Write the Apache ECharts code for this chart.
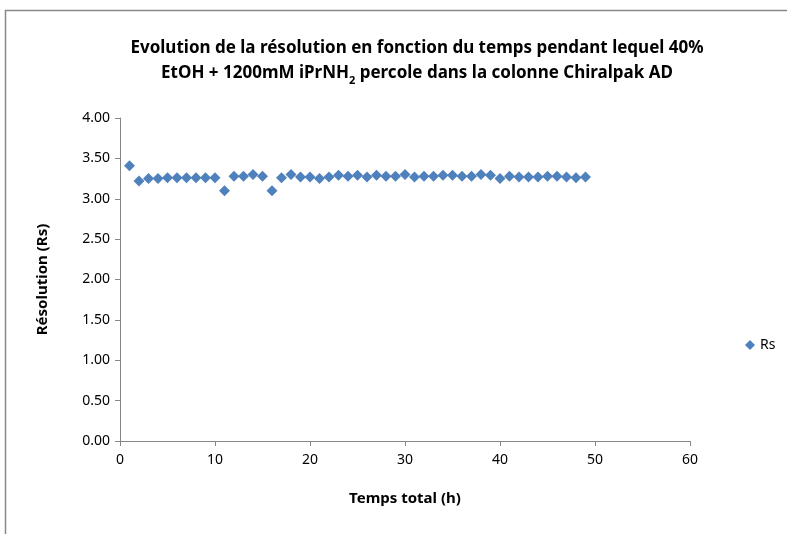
<!DOCTYPE html>
<html>
<head>
<meta charset="utf-8">
<script src="https://cdn.jsdelivr.net/npm/echarts@6/dist/echarts.min.js"></script>
<style>
  html, body { margin: 0; padding: 0; background: #fff; }
  #chart { width: 787px; height: 534px; }
</style>
</head>
<body>
<div id="chart"></div>
<script>
// temps total (h)
var hours = [1, 2, 3, 4, 5, 6, 7, 8, 9, 10,
             11, 12, 13, 14, 15, 16, 17, 18, 19, 20,
             21, 22, 23, 24, 25, 26, 27, 28, 29, 30,
             31, 32, 33, 34, 35, 36, 37, 38, 39, 40,
             41, 42, 43, 44, 45, 46, 47, 48, 49];
// résolution Rs
var rs = [3.41, 3.22, 3.25, 3.25, 3.26, 3.26, 3.26, 3.26, 3.26, 3.26,
          3.10, 3.28, 3.28, 3.30, 3.28, 3.10, 3.26, 3.30, 3.27, 3.27,
          3.25, 3.27, 3.29, 3.28, 3.29, 3.27, 3.29, 3.28, 3.28, 3.30,
          3.27, 3.28, 3.28, 3.29, 3.29, 3.28, 3.28, 3.30, 3.29, 3.25,
          3.28, 3.27, 3.27, 3.27, 3.28, 3.28, 3.27, 3.26, 3.27];

var font = 'Noto Sans';
var axisColor = '#868686';

var myChart = echarts.init(document.getElementById('chart'));

var option = {
    backgroundColor: '#fff',
    animation: false,
    title: {
        text: 'Evolution de la résolution en fonction du temps pendant lequel 40%\nEtOH + 1200mM iPrNH{sub|2} percole dans la colonne Chiralpak AD',
        left: 412,
        textAlign: 'center',
        top: 31,
        textStyle: {
            fontFamily: font,
            fontSize: 17,
            fontWeight: 'bold',
            color: '#000',
            lineHeight: 25,
            rich: {
                sub: {
                    fontFamily: font,
                    fontSize: 11,
                    fontWeight: 'bold',
                    verticalAlign: 'bottom',
                    padding: [9, 0, 0, 0]
                }
            }
        }
    },
    legend: {
        data: ['Rs'],
        left: 740,
        top: 333,
        itemWidth: 10,
        itemHeight: 10,
        itemGap: 4,
        textStyle: { fontFamily: font, fontSize: 14, color: '#000' }
    },
    grid: {
        left: 120,
        right: 97,
        top: 118,
        bottom: 93
    },
    xAxis: {
        type: 'value',
        min: 0,
        max: 60,
        interval: 10,
        name: 'Temps total (h)',
        nameLocation: 'middle',
        nameGap: 50,
        nameTextStyle: { fontFamily: font, fontSize: 15, fontWeight: 'bold', color: '#000' },
        axisLine: { show: true, lineStyle: { color: axisColor, width: 1 } },
        axisTick: { show: true, inside: false, length: 5, lineStyle: { color: axisColor } },
        axisLabel: { fontFamily: font, fontSize: 14, color: '#000', margin: 12 },
        splitLine: { show: false }
    },
    yAxis: {
        type: 'value',
        min: 0,
        max: 4,
        interval: 0.5,
        name: 'Résolution (Rs)',
        nameLocation: 'middle',
        nameGap: 70,
        nameRotate: 90,
        nameTextStyle: { fontFamily: font, fontSize: 15, fontWeight: 'bold', color: '#000' },
        axisLine: { show: true, lineStyle: { color: axisColor, width: 1 } },
        axisTick: { show: true, inside: false, length: 5, lineStyle: { color: axisColor } },
        axisLabel: {
            fontFamily: font, fontSize: 14, color: '#000', margin: 10,
            formatter: function (v) { return v.toFixed(2); }
        },
        splitLine: { show: false }
    },
    graphic: [{
        type: 'rect',
        shape: { x: 5.5, y: 10.5, width: 900, height: 700 },
        style: { fill: 'none', stroke: '#888', lineWidth: 1.5 },
        silent: true,
        z: -1
    }],
    series: [{
        name: 'Rs',
        type: 'scatter',
        symbol: 'diamond',
        symbolSize: 11,
        itemStyle: { color: '#4F81BD', opacity: 1 },
        data: hours.map(function (h, i) { return [h, rs[i]]; })
    }]
};

myChart.setOption(option);
</script>
</body>
</html>
